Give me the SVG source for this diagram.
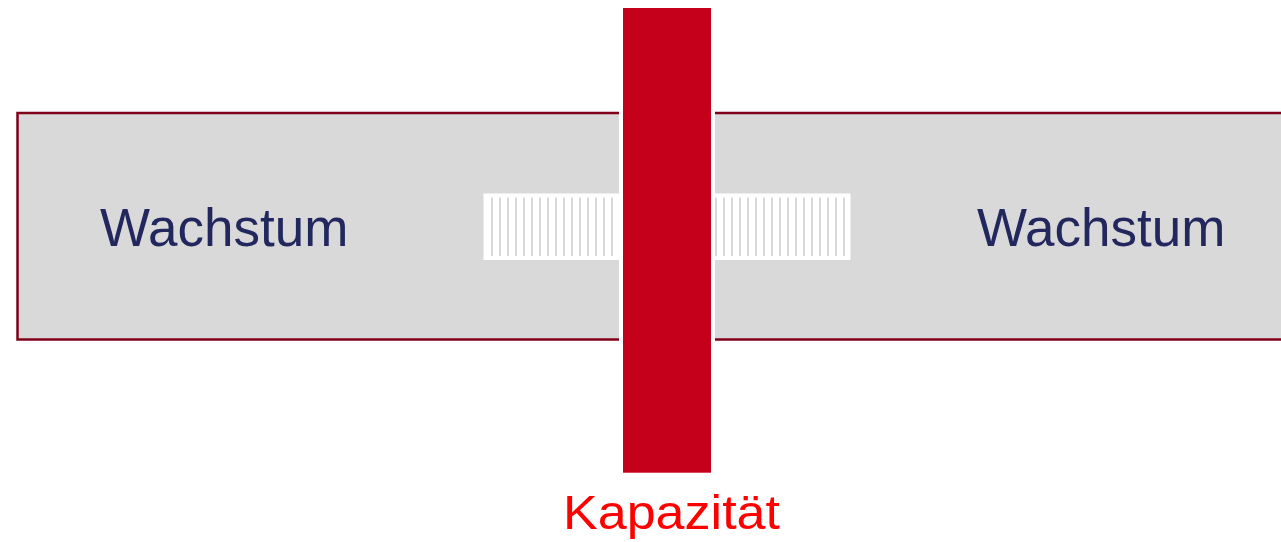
<svg xmlns="http://www.w3.org/2000/svg" width="1281" height="542" viewBox="0 0 1281 542">
  <style>
    .box { fill: #d9d9d9; stroke: #800018; stroke-width: 2.5; }
    .lbl { font-family: "Liberation Sans", Arial, sans-serif; font-size: 53px; fill: #22275e; }
    .cap { font-family: "Liberation Sans", Arial, sans-serif; font-size: 48px; fill: #ff0000; }
    .hatch { stroke: #d9d9d9; stroke-width: 2; fill: none; }
  </style>
  <rect width="1281" height="542" fill="#ffffff"/>
  <g id="growth-left">
    <rect class="box" x="17.5" y="113" width="620" height="226.5"/>
    <text class="lbl" x="100" y="246">Wachstum</text>
  </g>
  <g id="growth-right">
    <rect class="box" x="700" y="113" width="640" height="226.5"/>
    <text class="lbl" x="977" y="246">Wachstum</text>
  </g>
  <g id="gap">
    <rect x="483.5" y="193.5" width="367" height="66.5" fill="#ffffff"/>
    <path class="hatch" d="M492 197.5V256M500 197.5V256M508 197.5V256M516 197.5V256M524 197.5V256M532 197.5V256M540 197.5V256M548 197.5V256M556 197.5V256M564 197.5V256M572 197.5V256M580 197.5V256M588 197.5V256M596 197.5V256M604 197.5V256M612 197.5V256M716 197.5V256M724 197.5V256M732 197.5V256M740 197.5V256M748 197.5V256M756 197.5V256M764 197.5V256M772 197.5V256M780 197.5V256M788 197.5V256M796 197.5V256M804 197.5V256M812 197.5V256M820 197.5V256M828 197.5V256M836 197.5V256M844 197.5V256"/>
  </g>
  <g id="capacity">
    <rect x="621" y="6" width="92" height="468.7" fill="#c4001a" stroke="#ffffff" stroke-width="4"/>
    <text class="cap" x="563" y="529" textLength="217" lengthAdjust="spacingAndGlyphs">Kapazität</text>
  </g>
  <g id="connectors"/>
</svg>
